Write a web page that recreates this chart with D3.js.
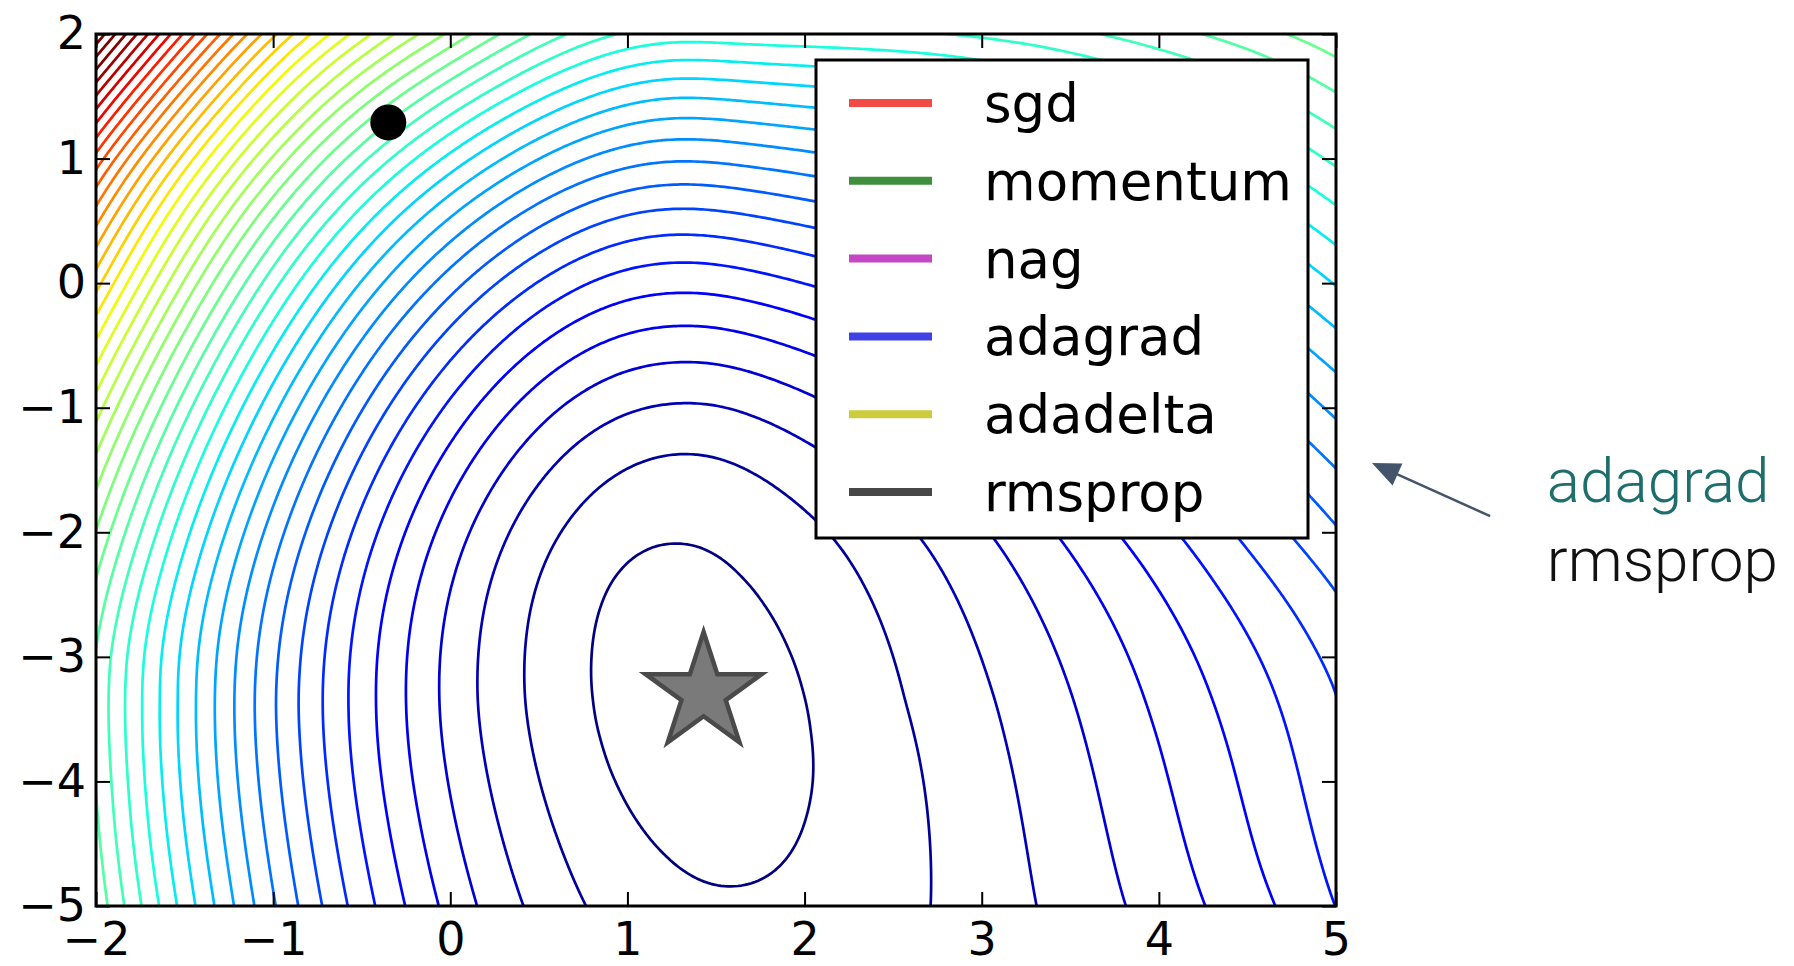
<!DOCTYPE html>
<html><head><meta charset="utf-8">
<script src="https://cdn.jsdelivr.net/npm/d3@7"></script>
<style>
html,body{margin:0;padding:0;background:#fff;}
svg{display:block;}
</style></head><body>
<svg id="chart" width="1794" height="966"></svg>
<script>
// ---------------- data ----------------
const xTicks = [-2,-1,0,1,2,3,4,5];
const yTicks = [-5,-4,-3,-2,-1,0,1,2];
const legendNames = ["sgd","momentum","nag","adagrad","adadelta","rmsprop"];
const legendColors = ["#f24a45","#3f8f3f","#c447c4","#4040e6","#cccc3c","#474747"];
const startPoint = [-0.35, 1.29];
const minimumPoint = [1.43, -3.29];
const annotationLines = ["adagrad","rmsprop"];
const annotationColors = ["#1f6e6e","#111111"];
const topContour = 43; // contour number that takes the dark-red end of the colour map

// contour crossings; contour number counted outward from the minimum
const centreLevel = [[1.42,-3.47,0.32]];
const ring1 = [[1.70,-4.83],[1.83,-4.72],[1.94,-4.53],[2.01,-4.27],[2.05,-3.95],[2.03,-3.60],[1.98,-3.24],[1.89,-2.89],[1.77,-2.59],[1.62,-2.35],[1.46,-2.18],[1.30,-2.10],
               [1.14,-2.11],[1.01,-2.22],[0.90,-2.41],[0.83,-2.68],[0.80,-2.99],[0.81,-3.34],[0.86,-3.70],[0.95,-4.05],[1.07,-4.35],[1.22,-4.59],[1.38,-4.76],[1.54,-4.84]]; // contour 1
const bottomLeft = [0.76,0.41,0.15,-0.06,-0.26,-0.42,-0.58,-0.72,-0.86,-0.99,-1.105,-1.22,-1.33,-1.44,-1.54,-1.64,-1.74,-1.84,-1.93]; // y=-5, contours 2..20
const bottomRight = [2.72,3.31,3.81,4.26,4.68,4.98];            // y=-5, contours 2..7
const bottomMin = [[1.65,-5,1.1]];
const rowMidLeft = [0.42,0.15,-0.06,-0.25,-0.42,-0.57,-0.72,-0.86,-0.99,-1.10,-1.22,-1.33,-1.44,-1.53,-1.63,-1.74,-1.84,-1.93]; // y=-3.35, contours 2..19
const rowMidRight = [2.55,3.08,3.52,3.92,4.30,4.66];            // y=-3.35, contours 2..7
const rowLegendRight = [2.18,2.66,3.07,3.44,3.79,4.14,4.45,4.75]; // y=-2.05, contours 2..9
const rightEdge = [[-5,7.05],[-3.21,8],[-2.46,9],[-1.94,10],[-1.48,11],[-1.10,12],[-0.37,14],[0.30,16],[0.93,18],[1.52,20],[2.0,21.6]]; // x=5: [y, contour]
const northColumn = [[-1.36,2],[-0.97,3],[-0.64,4],[-0.35,5],[-0.08,6],[0.39,8],[0.79,10],[1.15,12],[1.49,14],[1.79,16],[2.0,17.5]]; // x=1.25: [y, contour]
const leftEdge = [[-5,20.6],[-4,20.0],[-3,19.8],[-2,22],[-1,25.5],[0,30.5],[1,36.5],[2,46]]; // x=-2: [y, contour]
const topEdge = [[-1,31],[0,23],[0.85,18.3],[2,17.6],[3,18.2],[4,19.6]]; // y=2: [x, contour]

// ---------------- assemble samples [x, y, contour, weight] ----------------
const samples = [];
centreLevel.forEach(([x,y,l]) => samples.push([x,y,l,4]));
ring1.forEach(([x,y]) => samples.push([x,y,1,3]));
bottomMin.forEach(([x,y,l]) => samples.push([x,y,l,2]));
bottomLeft.forEach((x,i) => samples.push([x,-5,i+2,1]));
bottomRight.forEach((x,i) => samples.push([x,-5,i+2,1.5]));
rowMidLeft.forEach((x,i) => samples.push([x,-3.35,i+2,1]));
rowMidRight.forEach((x,i) => samples.push([x,-3.35,i+2,1]));
rowLegendRight.forEach((x,i) => samples.push([x,-2.05,i+2,1.5]));
rightEdge.forEach(([y,l]) => samples.push([5,y,l,1]));
northColumn.forEach(([y,l]) => samples.push([1.25,y,l,1.5]));
leftEdge.forEach(([y,l]) => samples.push([-2,y,l,1]));
topEdge.forEach(([x,l]) => samples.push([x,2,l,1]));

// ---------------- smooth surface through the samples ----------------
function solve(A,m){
  for(let c=0;c<m;c++){
    let p=c;for(let r=c+1;r<m;r++)if(Math.abs(A[r][c])>Math.abs(A[p][c]))p=r;
    [A[c],A[p]]=[A[p],A[c]];
    for(let r=0;r<m;r++){if(r===c)continue;const f=A[r][c]/A[c][c];if(f===0)continue;for(let k=c;k<=m;k++)A[r][k]-=f*A[c][k];}
  }
  return A.map((row,i)=>row[m]/row[i]);
}
function basis(x,y){
  const d=x-1.44, q=(y+3.3)/3, wr=0.5*(1+Math.tanh(d/0.4)), wl=1-wr, d2=d*d, s=d2/(1+Math.abs(d));
  return [1,q*q,q*q*q,q*q*q*q, d2*wl,d2*wl*q,d2*wl*q*q, d2*wr,d2*wr*q,d2*wr*q*q, s*wr,s*wr*q,s*wr*q*q, q*d*Math.exp(-d2)];
}
function fitBase(samples){
  const m=basis(0,0).length;
  const A=Array.from({length:m},()=>new Float64Array(m+1));
  for(const [x,y,l,w] of samples){
    const r=basis(x,y);
    for(let a=0;a<m;a++){for(let b=0;b<m;b++)A[a][b]+=w*r[a]*r[b];A[a][m]+=w*r[a]*l;}
  }
  for(let a=0;a<m;a++)A[a][a]+=1e-5;
  const coef=solve(A,m);
  return (x,y)=>{const r=basis(x,y);let s=0;for(let i=0;i<m;i++)s+=coef[i]*r[i];return s;};
}
function fitTPS(pts,lambda){ // pts: [x,y,residual,weight]
  const n=pts.length,m=n+3;
  const U=(r2)=>r2<=1e-12?0:0.5*r2*Math.log(r2);
  const A=Array.from({length:m},()=>new Float64Array(m+1));
  for(let i=0;i<n;i++){
    for(let j=0;j<n;j++){const dx=pts[i][0]-pts[j][0],dy=pts[i][1]-pts[j][1];A[i][j]=U(dx*dx+dy*dy);}
    A[i][i]+=lambda/pts[i][3];
    A[i][n]=1;A[i][n+1]=pts[i][0];A[i][n+2]=pts[i][1];
    A[n][i]=1;A[n+1][i]=pts[i][0];A[n+2][i]=pts[i][1];
    A[i][m]=pts[i][2];
  }
  const c=solve(A,m);
  return (x,y)=>{let s=c[n]+c[n+1]*x+c[n+2]*y;for(let i=0;i<n;i++){const dx=x-pts[i][0],dy=y-pts[i][1];s+=c[i]*U(dx*dx+dy*dy);}return s;};
}
const base = fitBase(samples);
const corr = fitTPS(samples.map(([x,y,l,w])=>[x,y,l-base(x,y),w]),0.4);
const surface = (x,y)=>base(x,y)+corr(x,y);

function jet(t){
  t=Math.max(0,Math.min(1,t));
  const f=(pts)=>{for(let i=1;i<pts.length;i++){if(t<=pts[i][0]){const [t0,v0]=pts[i-1],[t1,v1]=pts[i];return v0+(v1-v0)*(t-t0)/(t1-t0);}}return pts[pts.length-1][1];};
  const r=f([[0,0],[0.35,0],[0.66,1],[0.89,1],[1,0.5]]);
  const g=f([[0,0],[0.125,0],[0.375,1],[0.64,1],[0.91,0],[1,0]]);
  const b=f([[0,0.5],[0.11,1],[0.34,1],[0.65,0],[1,0]]);
  return d3.rgb(r*255,g*255,b*255).formatHex();
}

// ---------------- layout ----------------
const svg = d3.select("#chart");
const L=96,R=1336,T=34,B=906;
const x = d3.scaleLinear().domain([-2,5]).range([L,R]);
const y = d3.scaleLinear().domain([-5,2]).range([B,T]);

svg.append("defs").append("clipPath").attr("id","plotclip")
  .append("rect").attr("x",L).attr("y",T).attr("width",R-L).attr("height",B-T);

const gx0=-2.12,gx1=5.12,gy0=-5.12,gy1=2.12,nx=380,ny=380;
const dxg=(gx1-gx0)/(nx-1),dyg=(gy1-gy0)/(ny-1);
const values=new Array(nx*ny);
let vmax=-Infinity;
for(let j=0;j<ny;j++){const yy=gy1-j*dyg;for(let i=0;i<nx;i++){const xx=gx0+i*dxg;const v=surface(xx,yy);values[j*nx+i]=v;if(xx>=-2&&xx<=5&&yy>=-5&&yy<=2&&v>vmax)vmax=v;}}
const levels=d3.range(1,Math.floor(vmax)+1);
const contours=d3.contours().size([nx,ny]).smooth(true).thresholds(levels)(values);
const proj=d3.geoTransform({point:function(px,py){this.stream.point(x(gx0+(px-0.5)*dxg),y(gy1-(py-0.5)*dyg));}});
const path=d3.geoPath(proj);

const plot=svg.append("g").attr("clip-path","url(#plotclip)");
plot.selectAll("path.c").data(contours).join("path").attr("class","c")
  .attr("d",path).attr("fill","none")
  .attr("stroke",d=>jet((d.value-1)/(topContour-1)))
  .attr("stroke-width",2.7).attr("stroke-linejoin","round");

svg.append("circle").attr("cx",x(startPoint[0])).attr("cy",y(startPoint[1])).attr("r",18).attr("fill","#000");
svg.append("path").attr("d",d3.symbol().type(d3.symbolStar).size(4177)())
  .attr("transform",`translate(${x(minimumPoint[0])},${y(minimumPoint[1])})`)
  .attr("fill","#7a7a7a").attr("stroke","#4a4a4a").attr("stroke-width",4.5);

// axes
const font="'DejaVu Sans', sans-serif";
const fmt=d3.format("d");
const ax=(g)=>{g.select(".domain").remove();g.selectAll(".tick line").attr("stroke","#000").attr("stroke-width",2);g.selectAll("text").attr("font-family",font).attr("font-size",46).attr("fill","#000");};
svg.append("g").attr("transform",`translate(0,${B})`).call(d3.axisBottom(x).tickValues(xTicks).tickFormat(fmt).tickSize(-14).tickPadding(16)).call(ax);
svg.append("g").attr("transform",`translate(${L},0)`).call(d3.axisLeft(y).tickValues(yTicks).tickFormat(fmt).tickSize(-14).tickPadding(10)).call(ax);
svg.append("g").attr("transform",`translate(0,${T})`).call(d3.axisTop(x).tickValues(xTicks).tickSize(-14).tickFormat("")).call(ax);
svg.append("g").attr("transform",`translate(${R},0)`).call(d3.axisRight(y).tickValues(yTicks).tickSize(-14).tickFormat("")).call(ax);
svg.append("rect").attr("x",L).attr("y",T).attr("width",R-L).attr("height",B-T).attr("fill","none").attr("stroke","#000").attr("stroke-width",3);

// legend
const lg=svg.append("g");
lg.append("rect").attr("x",816).attr("y",60).attr("width",492).attr("height",478).attr("fill","#fff").attr("stroke","#000").attr("stroke-width",3);
legendNames.forEach((n,i)=>{
  const yy=103+i*77.8;
  lg.append("line").attr("x1",849).attr("x2",932).attr("y1",yy).attr("y2",yy).attr("stroke",legendColors[i]).attr("stroke-width",8);
  lg.append("text").attr("x",984).attr("y",yy+19).text(n).attr("font-family",font).attr("font-size",53).attr("fill","#000");
});

// annotation
const arrowTail=[5.87,-1.87], arrowTip=[5.203,-1.444];
const tx=x(arrowTip[0]),ty=y(arrowTip[1]),sx=x(arrowTail[0]),sy=y(arrowTail[1]);
const len=Math.hypot(sx-tx,sy-ty),ux=(sx-tx)/len,uy=(sy-ty)/len;
const hl=28,hw=12;
svg.append("line").attr("x1",sx).attr("y1",sy).attr("x2",tx+ux*hl*0.8).attr("y2",ty+uy*hl*0.8).attr("stroke","#44546a").attr("stroke-width",2.5);
svg.append("path").attr("d",`M${tx},${ty}L${tx+ux*hl-uy*hw},${ty+uy*hl+ux*hw}L${tx+ux*hl+uy*hw},${ty+uy*hl-ux*hw}Z`).attr("fill","#44546a");
annotationLines.forEach((t,i)=>{
  svg.append("text").attr("x",x(6.19)).attr("y",y(-1.76)+i*79).text(t)
    .attr("font-family","Roboto, sans-serif").attr("font-weight",300).attr("font-size",62).attr("fill",annotationColors[i]);
});
</script>
</body></html>
